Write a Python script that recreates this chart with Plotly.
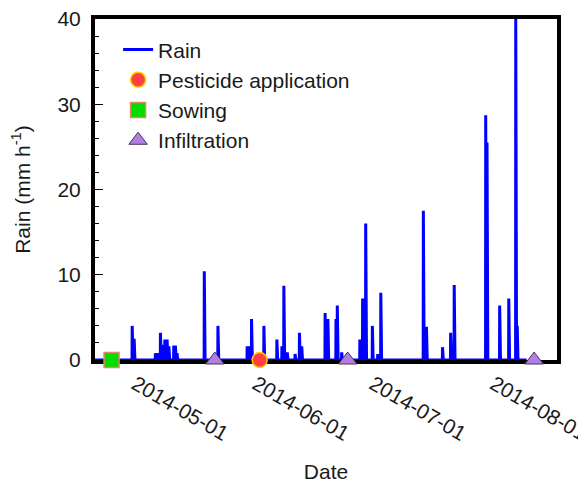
import pandas as pd
import plotly.graph_objects as go

# ---- data ----
rain_times = [
    "2014-05-02 07:00", "2014-05-02 19:00",
    "2014-05-08 06:00", "2014-05-08 16:00", "2014-05-09 03:00", "2014-05-09 13:00",
    "2014-05-10 04:00", "2014-05-10 16:00", "2014-05-11 06:00", "2014-05-11 17:00",
    "2014-05-12 23:00", "2014-05-13 09:00", "2014-05-13 19:00",
    "2014-05-20 19:00", "2014-05-24 07:00",
    "2014-05-31 19:00", "2014-06-01 07:00", "2014-06-01 22:00",
    "2014-06-05 02:00", "2014-06-08 10:00", "2014-06-09 17:00", "2014-06-10 05:00",
    "2014-06-11 02:00", "2014-06-13 02:00", "2014-06-14 05:00", "2014-06-14 19:00",
    "2014-06-20 19:00", "2014-06-21 12:00", "2014-06-23 14:00", "2014-06-23 22:00",
    "2014-06-25 01:00", "2014-06-29 17:00", "2014-06-30 10:00", "2014-07-01 05:00",
    "2014-07-02 22:00", "2014-07-04 07:00", "2014-07-05 02:00",
    "2014-07-16 00:00", "2014-07-16 19:00", "2014-07-20 22:00",
    "2014-07-23 00:00", "2014-07-23 22:00",
    "2014-08-01 00:00", "2014-08-01 08:00", "2014-08-04 14:00", "2014-08-06 22:00",
    "2014-08-08 17:00", "2014-08-09 02:00",
]
rain_values = [
    4.0, 2.5,
    0.8, 0.8, 0.8, 3.2,
    1.8, 2.4, 2.4, 1.6,
    1.7, 1.7, 0.8,
    10.4, 4.0,
    1.6, 1.6, 4.8,
    4.0, 2.4, 1.6, 8.7,
    0.9, 0.7, 3.2, 1.6,
    5.5, 4.8, 4.8, 6.4,
    0.9, 2.4, 7.2, 16.0,
    4.0, 0.7, 7.9,
    17.5, 3.9, 1.5,
    3.2, 8.8,
    28.7, 25.5, 6.4, 7.2,
    40.0, 4.0,
]
rain_start = "2014-04-22 00:00"
rain_end = "2014-08-11 12:00"

sowing_dates = ["2014-04-27 00:00"]
pesticide_dates = ["2014-06-04 00:00"]
infiltration_dates = ["2014-05-23 12:00", "2014-06-26 14:00", "2014-08-13 10:00"]

x_ticks = ["2014-05-01", "2014-06-01", "2014-07-01", "2014-08-01"]
x_range = ["2014-04-22 18:00", "2014-08-19 07:00"]
y_range = [0, 40]

# ---- hourly rain series (zero between events) ----
hours = pd.date_range(rain_start, rain_end, freq="h")
rain = pd.Series(0.0, index=hours)
for t, v in zip(rain_times, rain_values):
    rain[pd.Timestamp(t)] = v

FONT = "Liberation Sans, Arial, sans-serif"

fig = go.Figure()
fig.add_trace(go.Scatter(
    x=rain.index, y=rain.values, mode="lines", name="Rain",
    line=dict(color="#0000ff", width=3),
))
fig.add_trace(go.Scatter(
    x=pesticide_dates, y=[0] * len(pesticide_dates), mode="markers",
    name="Pesticide application", cliponaxis=False,
    marker=dict(symbol="circle", size=15, color="#ff4040",
                line=dict(color="#ffcc00", width=1.5)),
))
fig.add_trace(go.Scatter(
    x=sowing_dates, y=[0] * len(sowing_dates), mode="markers",
    name="Sowing", cliponaxis=False,
    marker=dict(symbol="square", size=15, color="#00dd00",
                line=dict(color="#e08a60", width=1.5)),
))
fig.add_trace(go.Scatter(
    x=infiltration_dates, y=[0] * len(infiltration_dates), mode="markers",
    name="Infiltration", cliponaxis=False,
    marker=dict(symbol="triangle-up", size=16, color="#b07fe0",
                line=dict(color="#4a3060", width=1)),
))

# the page body adds an 8px offset, so the figure is 8px smaller
fig.update_layout(
    width=578, height=475,
    margin=dict(l=87, r=29, t=11, b=123, autoexpand=False),
    paper_bgcolor="white", plot_bgcolor="white",
    font=dict(family=FONT, size=21, color="#1a1a1a"),
    showlegend=True,
    legend=dict(x=0.05, y=0.97, xanchor="left", yanchor="top",
                bgcolor="rgba(0,0,0,0)", font=dict(size=21, family=FONT),
                tracegroupgap=0),
    xaxis=dict(
        range=x_range, tickvals=x_ticks, tickformat="%Y-%m-%d",
        tickangle=30, showgrid=False, zeroline=False, automargin=False,
        showline=True, linecolor="black", linewidth=4, mirror=True,
        ticks="", layer="below traces", ticklabelshift=8,
        ticklabeloverflow="allow",
        title=dict(text="Date", standoff=21, font=dict(size=21)),
        tickfont=dict(size=21),
    ),
    yaxis=dict(
        range=y_range, tickvals=[0, 10, 20, 30, 40], showgrid=False,
        zeroline=False, showline=True, linecolor="black", linewidth=4,
        mirror=True, ticks="inside", ticklen=8, tickwidth=1.2, automargin=False,
        tickcolor="black", layer="below traces", ticklabeloverflow="allow",
        minor=dict(dtick=2, ticks="inside", ticklen=4, tickwidth=1,
                   tickcolor="black"),
        ticklabelstandoff=6,
        title=dict(text="Rain (mm h<sup>-1</sup>)", standoff=24,
                   font=dict(size=21)),
        tickfont=dict(size=21),
    ),
)

fig.write_html("out.html")
